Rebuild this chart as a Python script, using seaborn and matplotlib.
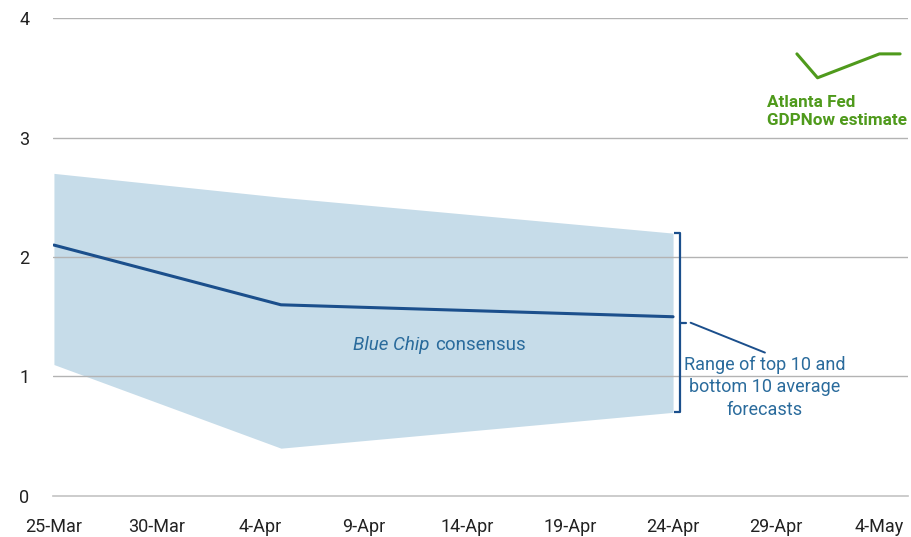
import numpy as np
import pandas as pd
import matplotlib
matplotlib.use("Agg")
import matplotlib.pyplot as plt
import matplotlib.dates as mdates
import seaborn as sns

# Data
band_dates = ["2016-03-25", "2016-04-05", "2016-04-24"]
band_upper = [2.7, 2.5, 2.2]
band_lower = [1.1, 0.4, 0.7]
consensus = [2.1, 1.6, 1.5]

gdpnow_dates = ["2016-04-30", "2016-05-01", "2016-05-04", "2016-05-05"]
gdpnow = [3.7, 3.5, 3.7, 3.7]

tick_dates = pd.date_range("2016-03-25", periods=9, freq="5D")
y_ticks = [0, 1, 2, 3, 4]

BAND = "#c6dce9"
NAVY = "#1b4f8c"
TEXT_BLUE = "#2a6b9c"
GREEN = "#4f9a1c"

sns.set_style("white")
plt.rcParams["font.family"] = ["Roboto", "DejaVu Sans"]

band = pd.DataFrame({"date": pd.to_datetime(band_dates), "upper": band_upper,
                     "lower": band_lower, "consensus": consensus})
gdp = pd.DataFrame({"date": pd.to_datetime(gdpnow_dates), "value": gdpnow})

fig = plt.figure(figsize=(9.12, 5.37), dpi=100)
ax = fig.add_axes([0.058, 0.0764, 0.938, 0.890])

ax.fill_between(band["date"], band["lower"], band["upper"], color=BAND, lw=0, zorder=1)
for y in y_ticks[1:]:
    ax.axhline(y, color="#b3b3b3", lw=1.0, zorder=2)
sns.lineplot(data=band, x="date", y="consensus", ax=ax, color=NAVY, lw=2.2, zorder=3)
sns.lineplot(data=gdp, x="date", y="value", ax=ax, color=GREEN, lw=2.2, zorder=3)

x0 = band["date"].iloc[0]
ax.set_xlim(x0 - pd.Timedelta(days=0.05), x0 + pd.Timedelta(days=41.4))
ax.set_ylim(0, 4)
ax.set_xticks(tick_dates)
ax.xaxis.set_major_formatter(mdates.DateFormatter("%-d-%b"))
ax.set_yticks(y_ticks)
ax.set_xlabel("")
ax.set_ylabel("")
for s in ["top", "right", "left"]:
    ax.spines[s].set_visible(False)
ax.spines["bottom"].set_color("#c4c4c4")
ax.spines["bottom"].set_linewidth(1.2)
ax.tick_params(axis="x", colors="#c4c4c4", length=5, width=1, labelcolor="#222222",
               labelsize=13, pad=11)
ax.tick_params(axis="y", length=0, labelcolor="#222222", labelsize=13, pad=17)

# bracket marking the range at the last date
end = band.iloc[-1]
bx = end["date"] + pd.Timedelta(days=0.35)
nub = pd.Timedelta(days=0.3)
mid = end["consensus"] - 0.05
ax.plot([bx - nub, bx, bx, bx - nub], [end["upper"], end["upper"], end["lower"], end["lower"]],
        color=NAVY, lw=1.6, zorder=4, solid_capstyle="butt")
ax.plot([bx, bx + nub], [mid, mid], color=NAVY, lw=1.6, zorder=4)
ax.plot([bx + pd.Timedelta(days=0.5), bx + pd.Timedelta(days=4.1)], [mid, mid - 0.25],
        color=NAVY, lw=1.4, zorder=4)
ax.text(bx + pd.Timedelta(days=4.1), mid - 0.28, "Range of top 10 and\nbottom 10 average\nforecasts",
        ha="center", va="top", color=TEXT_BLUE, fontsize=13, linespacing=1.3)

ax.text(pd.Timestamp("2016-04-12") + pd.Timedelta(days=0.2), 1.26,
        "Blue Chip", ha="right", va="center", color=TEXT_BLUE, fontsize=13.5, fontstyle="italic")
ax.text(pd.Timestamp("2016-04-12") + pd.Timedelta(days=0.45), 1.26,
        "consensus", ha="left", va="center", color=TEXT_BLUE, fontsize=13.5)

ax.text(gdp["date"].iloc[0] - pd.Timedelta(days=1.45), 3.36, "Atlanta Fed\nGDPNow estimate",
        ha="left", va="top", color=GREEN, fontsize=12.3, fontweight="bold", linespacing=1.3)

fig.savefig("out.png", dpi=100)
